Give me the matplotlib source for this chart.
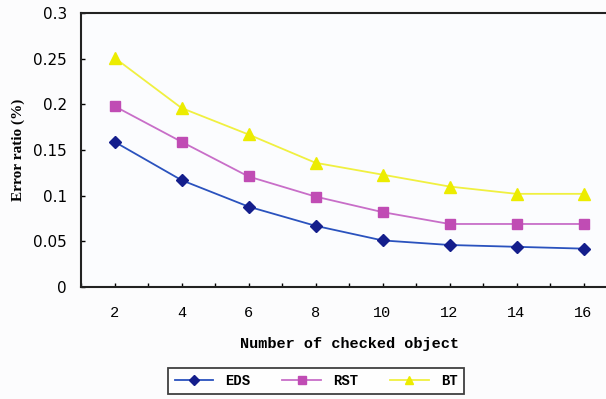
import matplotlib.pyplot as plt
from matplotlib.ticker import MultipleLocator, FixedLocator

checked = [2, 4, 6, 8, 10, 12, 14, 16]
eds = [0.159, 0.117, 0.088, 0.067, 0.051, 0.046, 0.044, 0.042]
rst = [0.198, 0.159, 0.121, 0.099, 0.082, 0.069, 0.069, 0.069]
bt = [0.251, 0.196, 0.167, 0.136, 0.123, 0.110, 0.102, 0.102]

W, H = 606, 399
fig = plt.figure(figsize=(W / 100, H / 100), dpi=100, facecolor="#fcfcfd")
ax = fig.add_axes([81 / W, (H - 287) / H, (617 - 81) / W, 274 / H])
ax.set_facecolor("#fbfcfe")

ax.plot(checked, eds, color="#2a52be", lw=1.3, marker="D", ms=6,
        mfc="#141e8c", mec="#141e8c", label="EDS")
ax.plot(checked, rst, color="#c86ec8", lw=1.3, marker="s", ms=7,
        mfc="#c04cb4", mec="#c04cb4", label="RST")
ax.plot(checked, bt, color="#f0f040", lw=1.3, marker="^", ms=8,
        mfc="#ecec00", mec="#ecec00", label="BT")

ax.set_xlim(1, 17)
ax.set_ylim(0, 0.3)
ax.xaxis.set_major_locator(FixedLocator(checked))
ax.xaxis.set_minor_locator(MultipleLocator(1))
ax.set_yticks([0, 0.05, 0.1, 0.15, 0.2, 0.25, 0.3],
              ["0", "0.05", "0.1", "0.15", "0.2", "0.25", "0.3"])
ax.tick_params(axis="both", which="both", direction="in", length=3, width=1)
ax.tick_params(axis="x", which="major", pad=14, labelsize=11)
ax.tick_params(axis="y", pad=10, labelsize=11)
for lab in ax.get_xticklabels():
    lab.set_fontfamily("Liberation Mono")
for lab in ax.get_yticklabels():
    lab.set_fontfamily("DejaVu Sans")
for s in ["left", "bottom", "top"]:
    ax.spines[s].set_linewidth(1.5)
    ax.spines[s].set_color("#222222")
ax.spines["right"].set_visible(False)

ax.set_xlabel("Number of checked object", family="Liberation Mono",
              fontsize=11, fontweight="bold", labelpad=12)
ax.set_ylabel("Error ratio (%)", family="Liberation Serif",
              fontsize=11, fontweight="bold", labelpad=6)

leg = fig.legend(loc="center", bbox_to_anchor=(316 / W, 1 - 381 / H), ncol=3,
                 frameon=True, fancybox=False, edgecolor="#111111",
                 prop={"family": "Liberation Mono", "weight": "bold", "size": 10},
                 handlelength=2.8, columnspacing=2.3, borderpad=0.45,
                 handletextpad=0.85, markerscale=0.8)
leg.get_frame().set_linewidth(1.3)

fig.savefig("out.png", dpi=100, facecolor=fig.get_facecolor())
